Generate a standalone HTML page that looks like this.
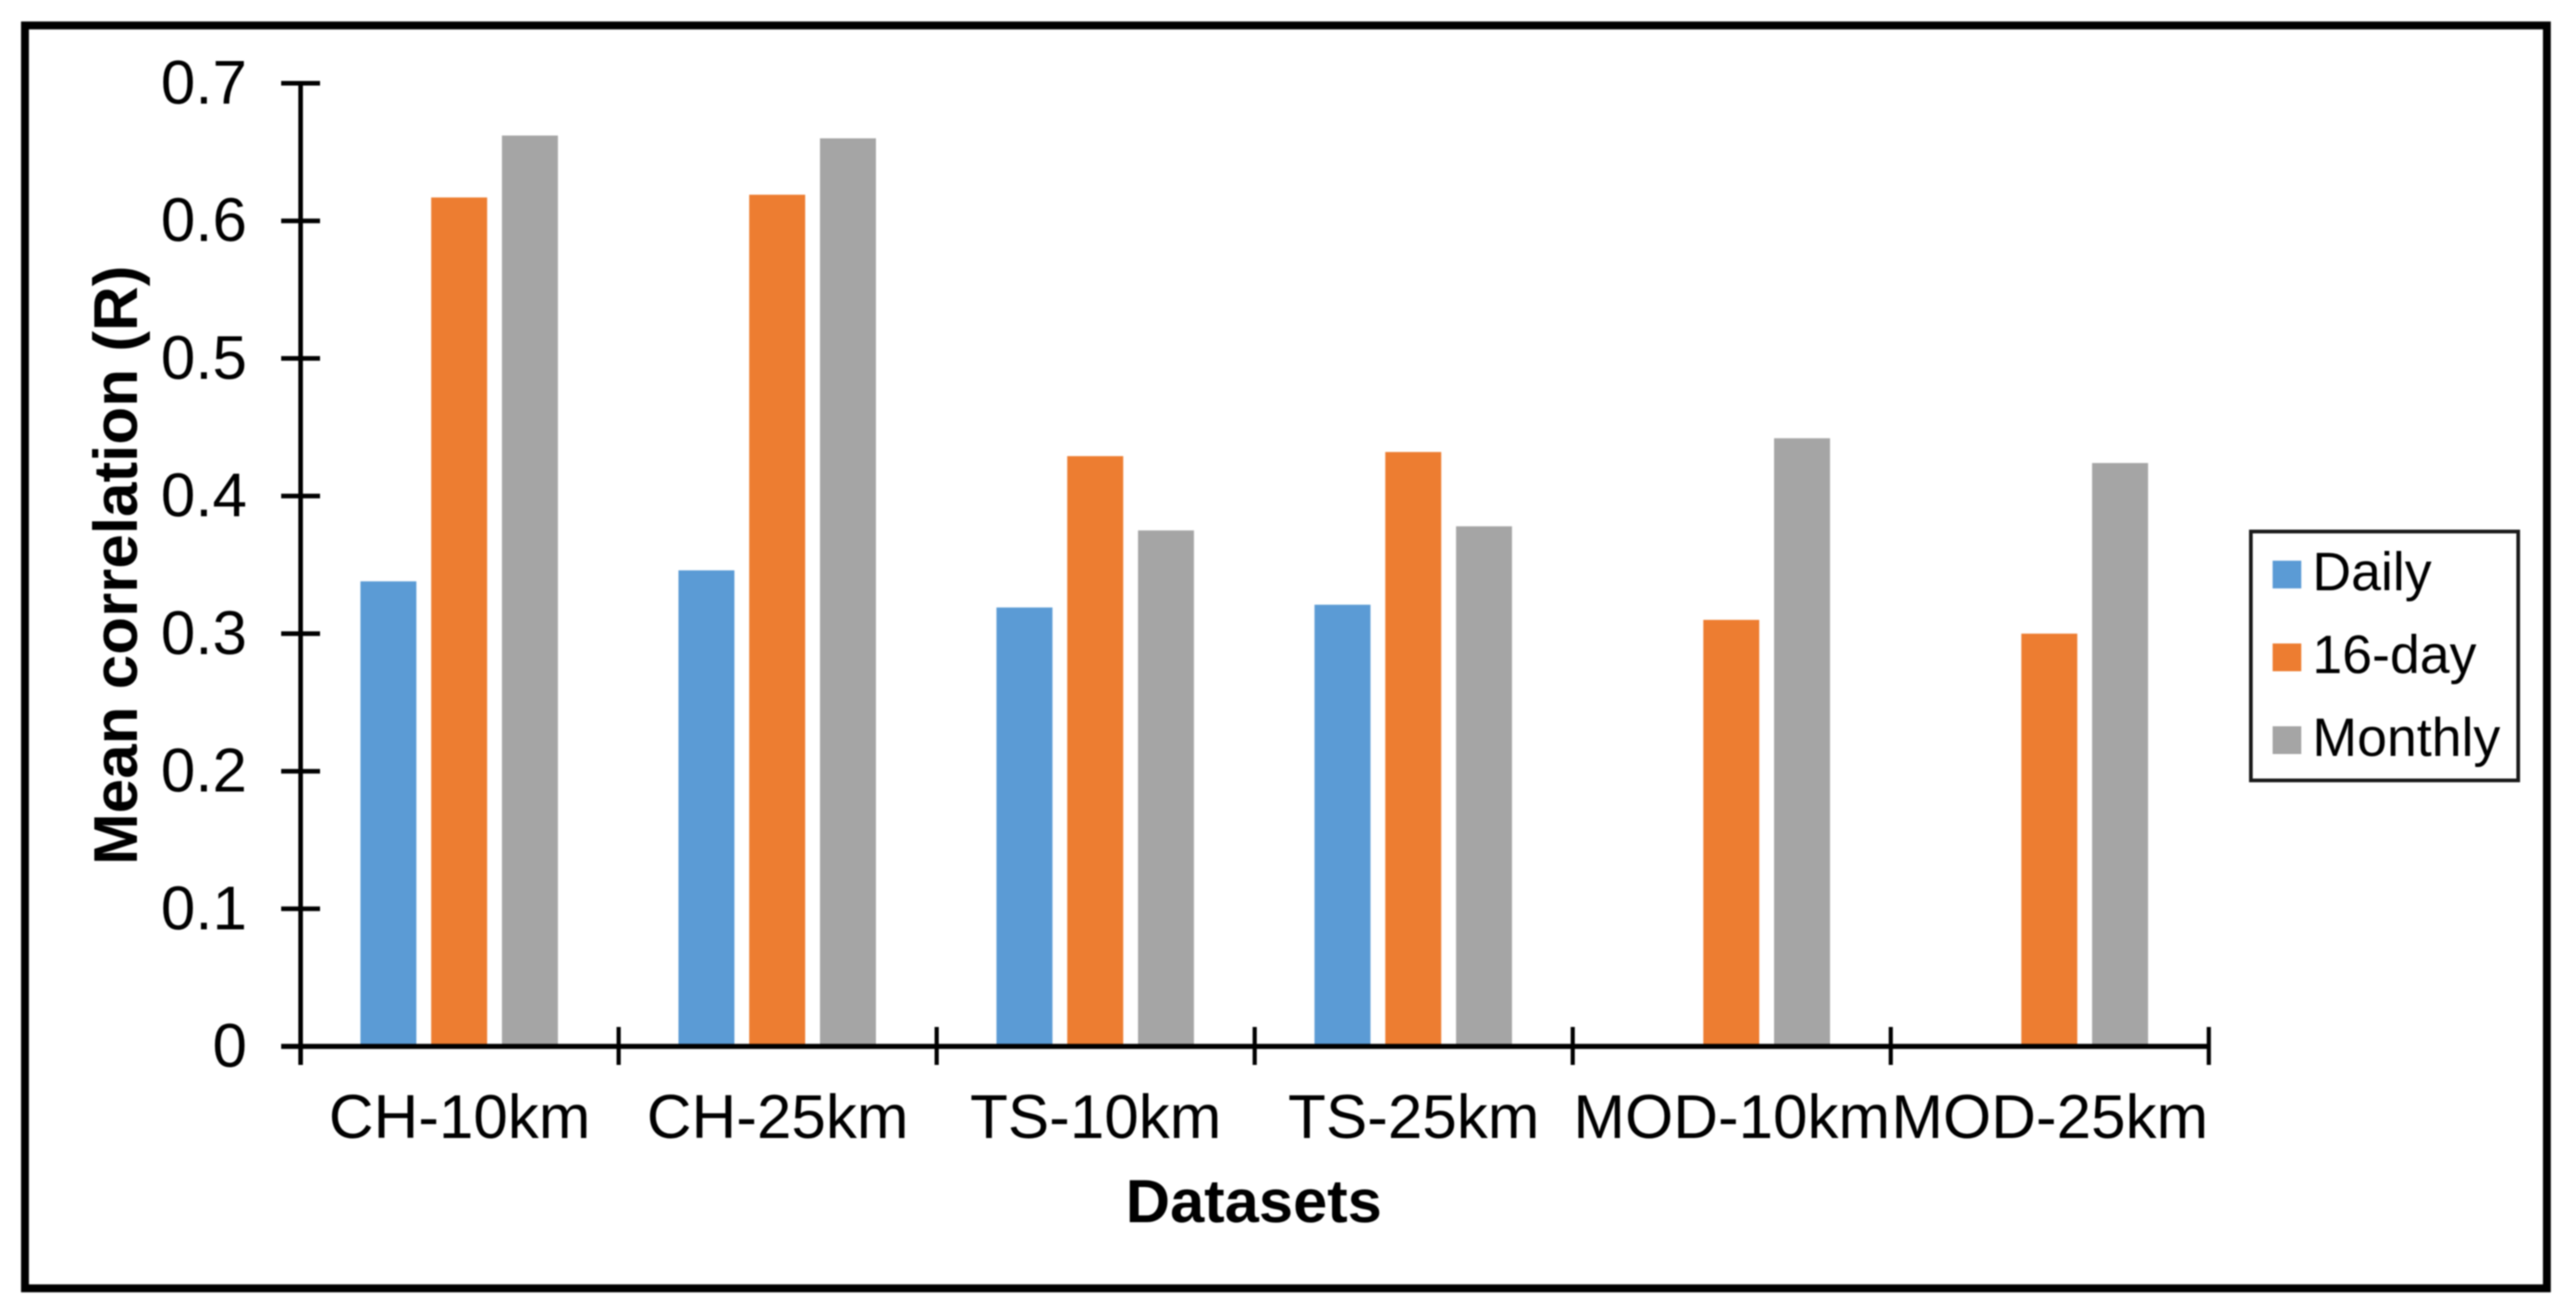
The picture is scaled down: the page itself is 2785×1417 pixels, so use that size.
<!DOCTYPE html>
<html lang="en">
<head>
<meta charset="utf-8">
<title>Mean correlation by dataset</title>
<style>
  html, body { margin: 0; padding: 0; background: #fff; }
  body { width: 2785px; height: 1417px; overflow: hidden; }
  svg { display: block; filter: blur(0.7px); font-family: "Liberation Sans", Arial, sans-serif; }
</style>
</head>
<body>
<svg id="chart" xmlns="http://www.w3.org/2000/svg" width="2785" height="1417" viewBox="0 0 2785 1417">
  <rect x="0" y="0" width="2785" height="1417" fill="#fff"/>
  <rect x="27" y="27.5" width="2726.5" height="1365" fill="none" stroke="#000" stroke-width="8.5"/>
  <g id="bars"></g>
  <g id="axes"></g>
  <text transform="translate(148 611) rotate(-90)" text-anchor="middle" font-size="67" font-weight="700" fill="#000">Mean correlation (R)</text>
  <text x="1217" y="1321" textLength="277" lengthAdjust="spacingAndGlyphs" font-size="66" font-weight="700" fill="#000">Datasets</text>
  <g id="legend">
    <rect x="2433.5" y="574.5" width="289" height="269" fill="#fff" stroke="#1a1a1a" stroke-width="4"/>
  </g>
</svg>
<script>
const categories = ["CH-10km", "CH-25km", "TS-10km", "TS-25km", "MOD-10km", "MOD-25km"];
const daily = [0.338, 0.346, 0.319, 0.321, null, null];
const sixteenDay = [0.617, 0.619, 0.429, 0.432, 0.310, 0.300];
const monthly = [0.662, 0.660, 0.375, 0.378, 0.442, 0.424];
const seriesNames = ["Daily", "16-day", "Monthly"];
const yTickLabels = ["0", "0.1", "0.2", "0.3", "0.4", "0.5", "0.6", "0.7"];

const NS = "http://www.w3.org/2000/svg";
const PLOT = { left: 325, right: 2388, bottom: 1131, top: 90, yMax: 0.7 };
const COLORS = ["#5B9BD5", "#ED7D31", "#A5A5A5"];
const allSeries = [daily, sixteenDay, monthly];
const BAR_W = 60.5, BAR_STEP = 76.5;

function yScale(v) { return PLOT.bottom - (v / PLOT.yMax) * (PLOT.bottom - PLOT.top); }
function xBand(i) { return PLOT.left + i * (PLOT.right - PLOT.left) / categories.length; }
function xCenter(i) { return xBand(i + 0.5) - 0.5; }
function make(tag, attrs) {
  const el = document.createElementNS(NS, tag);
  for (const k in attrs) el.setAttribute(k, attrs[k]);
  return el;
}

const barsG = document.getElementById("bars");
const axesG = document.getElementById("axes");
const legendG = document.getElementById("legend");

allSeries.forEach(function (values, s) {
  values.forEach(function (v, i) {
    if (v === null) return;
    const cx = xCenter(i) + (s - 1) * BAR_STEP;
    const bar = make("rect", { x: cx - BAR_W / 2, y: yScale(v), width: BAR_W, height: PLOT.bottom - yScale(v), fill: COLORS[s] });
    
    
    barsG.appendChild(bar);
  });
});

const yAxisLine = make("line", { x1: PLOT.left, x2: PLOT.left, y1: PLOT.top - 2, y2: PLOT.bottom + 20, stroke: "#000", "stroke-width": 5 });


axesG.appendChild(yAxisLine);

const xAxisLine = make("line", { x1: PLOT.left - 21, x2: PLOT.right + 2, y1: PLOT.bottom, y2: PLOT.bottom, stroke: "#000", "stroke-width": 5.5 });


axesG.appendChild(xAxisLine);

yTickLabels.forEach(function (label) {
  const yy = yScale(parseFloat(label));
  const tick = make("line", { x1: PLOT.left - 21, x2: PLOT.left + 21, y1: yy, y2: yy, stroke: "#000", "stroke-width": 5 });
  
  
  axesG.appendChild(tick);
  const txt = make("text", { x: 267, y: yy + 22, "text-anchor": "end", "font-size": 67, fill: "#000" });
  
  
  txt.textContent = label;
  axesG.appendChild(txt);
});

for (let i = 0; i <= categories.length; i++) {
  const xx = xBand(i);
  const tick = make("line", { x1: xx, x2: xx, y1: PLOT.bottom - 21, y2: PLOT.bottom + 20, stroke: "#000", "stroke-width": 4.5 });
  
  
  axesG.appendChild(tick);
}

categories.forEach(function (name, i) {
  const txt = make("text", { x: xBand(i + 0.5), y: 1230, "text-anchor": "middle", "font-size": 67, fill: "#000" });
  
  
  txt.textContent = name;
  axesG.appendChild(txt);
});

seriesNames.forEach(function (name, s) {
  const rowY = 606 + s * 89.5;
  const swatch = make("rect", { x: 2457, y: rowY, width: 31, height: 30, fill: COLORS[s] });
  
  
  legendG.appendChild(swatch);
  const txt = make("text", { x: 2500, y: rowY + 32, "font-size": 58, fill: "#000" });
  
  
  txt.textContent = name;
  legendG.appendChild(txt);
});
</script>
</body>
</html>
